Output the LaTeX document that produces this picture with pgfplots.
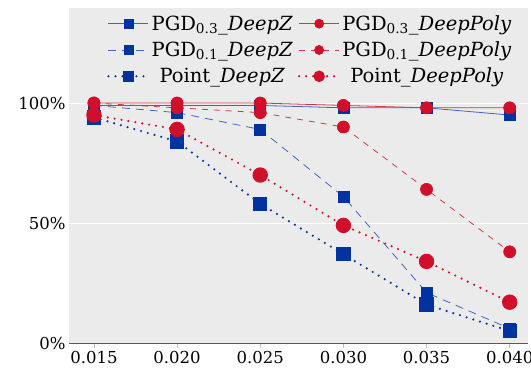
\documentclass[border=0pt]{standalone}
\usepackage{fontspec}
\setmainfont{DejaVu Serif}
\usepackage{pgfplots}
\pgfplotsset{compat=1.18}
\definecolor{bgc}{HTML}{EBEBEB}
\definecolor{bmk}{HTML}{0033A0}
\definecolor{bln}{HTML}{3F66C4}
\definecolor{rmk}{HTML}{D0102A}
\definecolor{rln}{HTML}{D8343F}
\begin{document}
\begin{tikzpicture}
\begin{axis}[
  scale only axis,
  width=459bp, height=335bp,
  xmin=0.0135, xmax=0.0411,
  ymin=0, ymax=1.396,
  axis background/.style={fill=bgc},
  axis x line*=bottom,
  axis y line*=left,
  y axis line style={draw=none},
  x axis line style={draw=black!65, line width=0.8pt, -},
  xtick={0.015,0.020,0.025,0.030,0.035,0.040},
  xticklabels={0.015,0.020,0.025,0.030,0.035,0.040},
  scaled x ticks=false,
  ytick={0,0.5,1},
  yticklabels={0\%,50\%,100\%},
  ymajorgrids,
  grid style={white, line width=0.8pt},
  major tick length=5bp,
  xtick style={draw=black!25, line width=0.8pt},
  xtick align=outside,
  ytick style={draw=none},
  tick label style={font=\fontsize{16.5bp}{18bp}\selectfont},
  /pgf/number format/assume math mode=true,
  clip=false,
  legend columns=2,
  legend cell align=center,
  legend style={draw=none, fill=none, at={(rel axis cs:0.975,0.99)}, anchor=north east,
    font=\fontsize{19.5bp}{21bp}\selectfont, row sep=6bp, column sep=0bp,
    /tikz/every even column/.append style={column sep=3bp}},
  legend image code/.code={\draw[mark repeat=2,mark phase=2, mark size=4.5bp] plot coordinates {(0bp,0bp)(20bp,0bp)(40bp,0bp)};},
]
\addplot[bln, line width=0.8pt, mark=square*, mark size=5.5bp, mark options={solid, fill=bmk, draw=bmk}]
 coordinates {(0.015,0.99)(0.020,0.99)(0.025,0.99)(0.030,0.98)(0.035,0.98)(0.040,0.95)};
\addlegendentry{PGD\textsubscript{0.3}\_\textit{DeepZ}}
\addplot[rln, line width=0.8pt, mark=*, mark size=6bp, mark options={solid, fill=rmk, draw=rmk}]
 coordinates {(0.015,1.0)(0.020,1.0)(0.025,1.0)(0.030,0.99)(0.035,0.98)(0.040,0.98)};
\addlegendentry{PGD\textsubscript{0.3}\_\textit{DeepPoly}}
\addplot[bln, line width=0.8pt, dash pattern=on 8bp off 6bp, mark=square*, mark size=5.5bp, mark options={solid, fill=bmk, draw=bmk}]
 coordinates {(0.015,0.99)(0.020,0.96)(0.025,0.89)(0.030,0.61)(0.035,0.21)(0.040,0.06)};
\addlegendentry{PGD\textsubscript{0.1}\_\textit{DeepZ}}
\addplot[rln, line width=0.8pt, dash pattern=on 6bp off 6bp, mark=*, mark size=6bp, mark options={solid, fill=rmk, draw=rmk}]
 coordinates {(0.015,1.0)(0.020,0.98)(0.025,0.96)(0.030,0.90)(0.035,0.64)(0.040,0.38)};
\addlegendentry{PGD\textsubscript{0.1}\_\textit{DeepPoly}}
\addplot[bmk, line width=2.4pt, line cap=round, dash pattern=on 0pt off 7bp, mark=square*, mark size=6bp, mark options={solid, fill=bmk, draw=bmk}]
 coordinates {(0.015,0.94)(0.020,0.84)(0.025,0.58)(0.030,0.37)(0.035,0.16)(0.040,0.05)};
\addlegendentry{Point\_\textit{DeepZ}}
\addplot[rmk, line width=2.4pt, line cap=round, dash pattern=on 0pt off 7bp, mark=*, mark size=6.5bp, mark options={solid, fill=rmk, draw=rmk}]
 coordinates {(0.015,0.95)(0.020,0.89)(0.025,0.70)(0.030,0.49)(0.035,0.34)(0.040,0.17)};
\addlegendentry{Point\_\textit{DeepPoly}}
\end{axis}
\pgfresetboundingbox
\useasboundingbox ([shift={(-69bp,-29bp)}]current axis.south west) rectangle ([shift={(3bp,8bp)}]current axis.north east);
\end{tikzpicture}
\end{document}
